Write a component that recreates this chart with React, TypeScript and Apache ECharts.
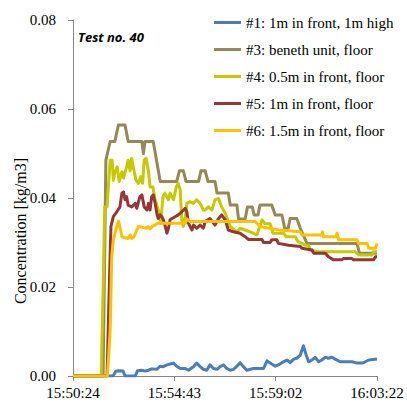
import React, { useEffect, useRef } from "react";
import * as echarts from "echarts";

const xTickLabels = ["15:50:24", "15:54:43", "15:59:02", "16:03:22"];
const tickStep = 259; // seconds between tick labels
const xMax = 777;

const seriesNames = [
  "#1: 1m in front, 1m high",
  "#3: beneth unit, floor",
  "#4: 0.5m in front, floor",
  "#5: 1m in front, floor",
  "#6: 1.5m in front, floor",
];
const seriesColors = ["#4A7EBB", "#948A54", "#C8C800", "#953735", "#FFC000"];

// [seconds from 15:50:24, concentration kg/m3]
const s1: [number, number][] = [
  [0, 0], [102, 0], [110, 0.0011], [116, 0.0012], [128, 0.0011], [133, 0], [159, 0],
  [165, 0.0012], [176, 0.0013], [184, 0.0011], [193, 0.0013], [201, 0.0016], [214, 0.0015],
  [223, 0.0022], [231, 0.0021], [240, 0.0025], [248, 0.0027], [257, 0.0029], [265, 0.0022],
  [274, 0.0017], [287, 0.0017], [295, 0.0013], [308, 0.0021], [316, 0.0029], [325, 0.0021],
  [333, 0.0015], [342, 0.0013], [350, 0.0025], [359, 0.0017], [368, 0.0015], [376, 0.0021],
  [385, 0.0025], [393, 0.0017], [402, 0.0013], [410, 0.0015], [419, 0.0022], [427, 0.003],
  [436, 0.0021], [444, 0.0013], [461, 0.0017], [487, 0.0017], [496, 0.0034], [504, 0.0029],
  [517, 0.0022], [525, 0.0025], [534, 0.003], [547, 0.0036], [555, 0.003], [564, 0.0038],
  [572, 0.004], [581, 0.0047], [589, 0.0068], [596, 0.0047], [602, 0.0032], [611, 0.0036],
  [619, 0.0042], [628, 0.0032], [636, 0.0036], [645, 0.0042], [653, 0.004], [662, 0.0042],
  [670, 0.0038], [683, 0.0032], [713, 0.0032], [726, 0.0029], [739, 0.0029], [747, 0.0032],
  [756, 0.0036], [777, 0.0038],
];

const s3: [number, number][] = [
  [0, 0], [77, 0], [84, 0.0485], [95, 0.0527], [107, 0.0527], [116, 0.0564], [133, 0.0564],
  [141, 0.0527], [176, 0.0527], [180, 0.05], [184, 0.0527], [205, 0.0527], [223, 0.0437],
  [265, 0.0437], [272, 0.0461], [282, 0.0461], [289, 0.0437], [321, 0.0437], [327, 0.0461],
  [338, 0.0461], [345, 0.0437], [363, 0.0437], [368, 0.0411], [397, 0.0411], [402, 0.0384],
  [419, 0.0384], [423, 0.0353], [440, 0.0353], [446, 0.038], [458, 0.038], [463, 0.0362],
  [473, 0.0362], [478, 0.0384], [508, 0.0384], [517, 0.0362], [534, 0.0362], [541, 0.0332],
  [550, 0.0332], [555, 0.0354], [572, 0.0354], [581, 0.0332], [598, 0.0298], [726, 0.0298],
  [732, 0.0276], [777, 0.0276],
];

const s4: [number, number][] = [
  [0, 0], [72, 0], [77, 0.0193], [81, 0.038], [87, 0.038], [95, 0.0485], [100, 0.0485],
  [103, 0.044], [107, 0.0458], [113, 0.047], [118, 0.0437], [125, 0.0459], [129, 0.0445],
  [137, 0.047], [141, 0.0485], [146, 0.0461], [150, 0.0489], [154, 0.047], [161, 0.044],
  [167, 0.0433], [173, 0.0448], [178, 0.0433], [182, 0.0485], [187, 0.0489], [193, 0.0459],
  [197, 0.0425], [204, 0.0425], [210, 0.0396], [218, 0.0373], [224, 0.0343], [230, 0.0403],
  [235, 0.0411], [244, 0.0396], [248, 0.0411], [257, 0.0396], [264, 0.0425], [269, 0.0433],
  [274, 0.0418], [278, 0.0351], [282, 0.0336], [287, 0.0358], [291, 0.0388], [299, 0.0392],
  [308, 0.0388], [316, 0.0396], [325, 0.0388], [333, 0.0373], [338, 0.0373], [346, 0.038],
  [355, 0.0373], [363, 0.0396], [372, 0.0399], [380, 0.038], [389, 0.0366], [397, 0.0347],
  [402, 0.0336], [419, 0.0324], [427, 0.0332], [440, 0.0328], [453, 0.0324], [470, 0.0317],
  [483, 0.0351], [491, 0.0342], [504, 0.0342], [511, 0.0321], [538, 0.0321], [545, 0.0313],
  [568, 0.0313], [575, 0.0302], [594, 0.0294], [602, 0.0294], [606, 0.0283], [628, 0.0279],
  [721, 0.0279], [730, 0.0272], [764, 0.0272], [768, 0.0279], [777, 0.0279],
];

const s5: [number, number][] = [
  [0, 0], [87, 0], [95, 0.0276], [97, 0.0336], [103, 0.0358], [112, 0.0369], [120, 0.038],
  [125, 0.0411], [129, 0.0414], [133, 0.0396], [137, 0.0403], [141, 0.0384], [150, 0.038],
  [159, 0.0388], [163, 0.0377], [171, 0.0403], [176, 0.0407], [182, 0.038], [189, 0.0373],
  [193, 0.0388], [197, 0.0373], [201, 0.0403], [205, 0.0407], [210, 0.0388], [214, 0.0366],
  [218, 0.0354], [223, 0.0362], [227, 0.0358], [231, 0.0351], [235, 0.0339], [240, 0.0321],
  [244, 0.0332], [248, 0.0351], [253, 0.0354], [261, 0.0358], [269, 0.0362], [278, 0.0369],
  [287, 0.0377], [291, 0.0369], [295, 0.0343], [304, 0.0328], [308, 0.0339], [316, 0.0332],
  [325, 0.0339], [333, 0.0332], [338, 0.0347], [350, 0.0354], [363, 0.0339], [372, 0.0354],
  [380, 0.0362], [389, 0.0351], [397, 0.0328], [410, 0.0324], [427, 0.0321], [440, 0.0313],
  [448, 0.0307], [483, 0.0307], [487, 0.03], [504, 0.03], [508, 0.0306], [521, 0.0306],
  [525, 0.0298], [551, 0.0294], [581, 0.0291], [585, 0.0287], [611, 0.0283], [615, 0.0276],
  [645, 0.0276], [653, 0.0268], [666, 0.0261], [687, 0.0261], [692, 0.0264], [713, 0.0264],
  [717, 0.0261], [768, 0.0261], [773, 0.0268], [777, 0.0268],
];

const s6: [number, number][] = [
  [0, 0], [88, 0], [95, 0.0103], [99, 0.0268], [103, 0.0306], [112, 0.0336], [116, 0.0348],
  [119, 0.0339], [125, 0.0313], [141, 0.0309], [146, 0.0317], [150, 0.0309], [156, 0.0313],
  [163, 0.0328], [167, 0.0336], [189, 0.0332], [192, 0.0336], [197, 0.033], [202, 0.0336],
  [210, 0.0339], [215, 0.0343], [287, 0.0343], [291, 0.0353], [299, 0.0347], [466, 0.0347],
  [478, 0.0336], [525, 0.0328], [581, 0.0324], [585, 0.0317], [636, 0.0317], [638, 0.0324],
  [640, 0.0313], [673, 0.0313], [675, 0.0321], [679, 0.0306], [726, 0.0306], [730, 0.0298],
  [752, 0.0298], [756, 0.0287], [773, 0.0287], [777, 0.0298],
];

const allSeries = [s1, s3, s4, s5, s6];

export default function App() {
  const ref = useRef<HTMLDivElement>(null);
  useEffect(() => {
    document.body.style.margin = "0";
    if (!ref.current) return;
    const chart = echarts.init(ref.current, undefined, { renderer: "svg" });
    const serif = "'Liberation Serif', 'Times New Roman', serif";
    chart.setOption({
      animation: false,
      backgroundColor: "#ffffff",
      grid: { left: 73, right: 30, top: 20, bottom: 28, containLabel: false },
      legend: {
        orient: "vertical",
        left: 209,
        top: 10,
        itemWidth: 27,
        itemHeight: 3,
        itemGap: 12,
        icon: "rect",
        textStyle: { fontFamily: serif, fontSize: 15, color: "#000" },
        data: seriesNames,
      },
      graphic: [
        {
          type: "text",
          left: 78,
          top: 30,
          style: {
            text: "Test no. 40",
            font: "italic bold 13px 'Open Sans', sans-serif",
            fill: "#000",
          },
        },
        {
          type: "text",
          x: 20,
          y: 231,
          rotation: Math.PI / 2,
          style: {
            text: "Concentration [kg/m3]",
            font: `16px ${serif}`,
            fill: "#000",
            align: "center",
            verticalAlign: "middle",
          },
        },
      ],
      xAxis: {
        type: "value",
        min: 0,
        max: xMax,
        interval: tickStep,
        splitLine: { show: false },
        axisLine: { lineStyle: { color: "#868686", width: 1 } },
        axisTick: { show: true, length: 5, lineStyle: { color: "#868686" } },
        axisLabel: {
          color: "#000",
          fontFamily: serif,
          fontSize: 15,
          margin: 9,
          formatter: (v: number) => xTickLabels[Math.round(v / tickStep)] ?? "",
        },
      },
      yAxis: {
        type: "value",
        min: 0,
        max: 0.08,
        interval: 0.02,
        splitLine: { show: false },
        axisLine: { show: true, lineStyle: { color: "#868686", width: 1 } },
        axisTick: { show: true, length: 5, lineStyle: { color: "#868686" } },
        axisLabel: {
          color: "#000",
          fontFamily: serif,
          fontSize: 15,
          margin: 17,
          formatter: (v: number) => v.toFixed(2),
        },
      },
      series: allSeries.map((d, i) => ({
        name: seriesNames[i],
        type: "line",
        data: d,
        symbol: "none",
        showSymbol: false,
        color: seriesColors[i],
        lineStyle: { width: 3, color: seriesColors[i], join: "round" },
      })),
    });
    return () => chart.dispose();
  }, []);
  return (
    <div
      ref={ref}
      style={{ width: 407, height: 404, position: "absolute", left: 0, top: 0 }}
    />
  );
}
